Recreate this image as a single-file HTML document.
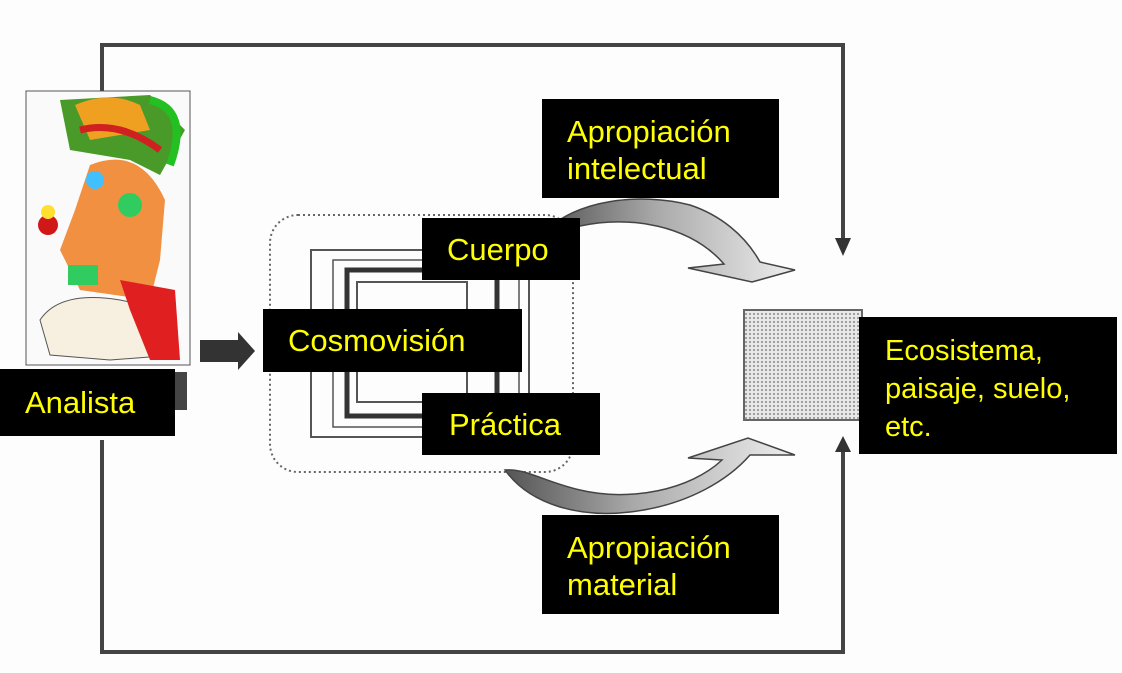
<!DOCTYPE html>
<html><head><meta charset="utf-8"><style>
html,body{margin:0;padding:0;background:#fff;}
.b{position:absolute;background:#000;color:#ff0;font-family:"Liberation Sans",sans-serif;font-size:31px;line-height:37px;}
</style></head><body>
<div style="position:relative;width:1122px;height:673px;overflow:hidden;background:#fdfdfd;">
<svg width="1122" height="673" style="position:absolute;left:0;top:0">
<defs>
<pattern id="dots" width="4" height="4" patternUnits="userSpaceOnUse"><rect width="4" height="4" fill="#e8e8e8"/><circle cx="2" cy="2" r="1" fill="#888"/></pattern>
<linearGradient id="g1" x1="0" x2="1"><stop offset="0" stop-color="#555"/><stop offset="0.45" stop-color="#aaa"/><stop offset="1" stop-color="#eee"/></linearGradient>
</defs>
<g stroke="#444" stroke-width="4" fill="none">
<polyline points="102,92 102,45 843,45 843,240"/>
<polyline points="102,440 102,652 843,652 843,450"/>
</g>
<polygon points="835,238 851,238 843,256" fill="#333"/>
<polygon points="835,452 851,452 843,436" fill="#333"/>
<rect x="270" y="215" width="303" height="257" rx="28" fill="none" stroke="#666" stroke-width="2" stroke-dasharray="2,3"/>
<g fill="none" stroke="#555">
<rect x="311" y="250" width="218" height="187" stroke-width="2"/>
<rect x="333" y="260" width="186" height="167" stroke-width="1.5"/>
<rect x="347" y="270" width="150" height="146" stroke-width="5" stroke="#333"/>
<rect x="357" y="282" width="110" height="120" stroke-width="2"/>
</g>
<polygon points="200,340 238,340 238,332 255,351 238,370 238,362 200,362" fill="#333"/>
<path d="M545,232 C575,200 640,192 690,205 C720,215 745,235 760,262 L795,270 L752,282 L688,268 L724,264 C690,225 630,215 580,226 C565,230 555,236 545,232 Z" fill="url(#g1)" stroke="#444" stroke-width="1.5"/>
<path d="M505,470 C530,505 580,518 630,512 C690,505 730,478 750,455 L795,455 L748,438 L688,458 L722,460 C690,490 630,502 580,490 C545,482 525,468 505,470 Z" fill="url(#g1)" stroke="#444" stroke-width="1.5"/>
<rect x="744" y="310" width="118" height="110" fill="url(#dots)" stroke="#666" stroke-width="2"/>
<rect x="26" y="91" width="164" height="274" fill="#fafafa" stroke="#555" stroke-width="1"/>
<path d="M60,100 L150,95 L185,130 L160,175 L130,160 L70,150 Z" fill="#4a9a2a"/>
<path d="M75,105 Q110,90 140,105 L150,130 L90,140 Z" fill="#f0a020"/>
<path d="M150,100 Q190,110 170,165" stroke="#22c020" stroke-width="8" fill="none"/>
<path d="M80,130 Q120,120 160,150" stroke="#d02020" stroke-width="7" fill="none"/>
<path d="M90,165 Q140,145 165,200 L160,260 L150,300 L80,290 L60,250 L75,210 Z" fill="#f09040"/>
<circle cx="95" cy="180" r="9" fill="#40c0ff"/>
<circle cx="130" cy="205" r="12" fill="#30cc60"/>
<circle cx="48" cy="225" r="10" fill="#d01818"/>
<circle cx="48" cy="212" r="7" fill="#ffe030"/>
<rect x="68" y="265" width="30" height="20" fill="#30cc60"/>
<path d="M40,320 Q60,290 120,300 L170,310 L175,355 L110,360 L50,355 Z" fill="#f7f0e0" stroke="#555"/>
<path d="M120,280 L175,290 L180,360 L150,360 L130,310 Z" fill="#e02020"/>
<rect x="175" y="372" width="12" height="38" fill="#444"/>
</svg>
<div class="b" style="left:0;top:369px;width:175px;height:67px;"><span style="position:absolute;left:25px;top:15px">Analista</span></div>
<div class="b" style="left:542px;top:99px;width:237px;height:99px;"><span style="position:absolute;left:25px;top:14px">Apropiación<br>intelectual</span></div>
<div class="b" style="left:422px;top:218px;width:158px;height:62px;"><span style="position:absolute;left:25px;top:13px">Cuerpo</span></div>
<div class="b" style="left:263px;top:309px;width:259px;height:63px;"><span style="position:absolute;left:25px;top:13px">Cosmovisión</span></div>
<div class="b" style="left:422px;top:393px;width:178px;height:62px;"><span style="position:absolute;left:27px;top:13px">Práctica</span></div>
<div class="b" style="left:542px;top:515px;width:237px;height:99px;"><span style="position:absolute;left:25px;top:14px">Apropiación<br>material</span></div>
<div class="b" style="left:859px;top:317px;width:258px;height:137px;"><span style="position:absolute;left:26px;top:15px;font-size:29px;line-height:38px">Ecosistema,<br>paisaje, suelo,<br>etc.</span></div>
</div>
</body></html>
